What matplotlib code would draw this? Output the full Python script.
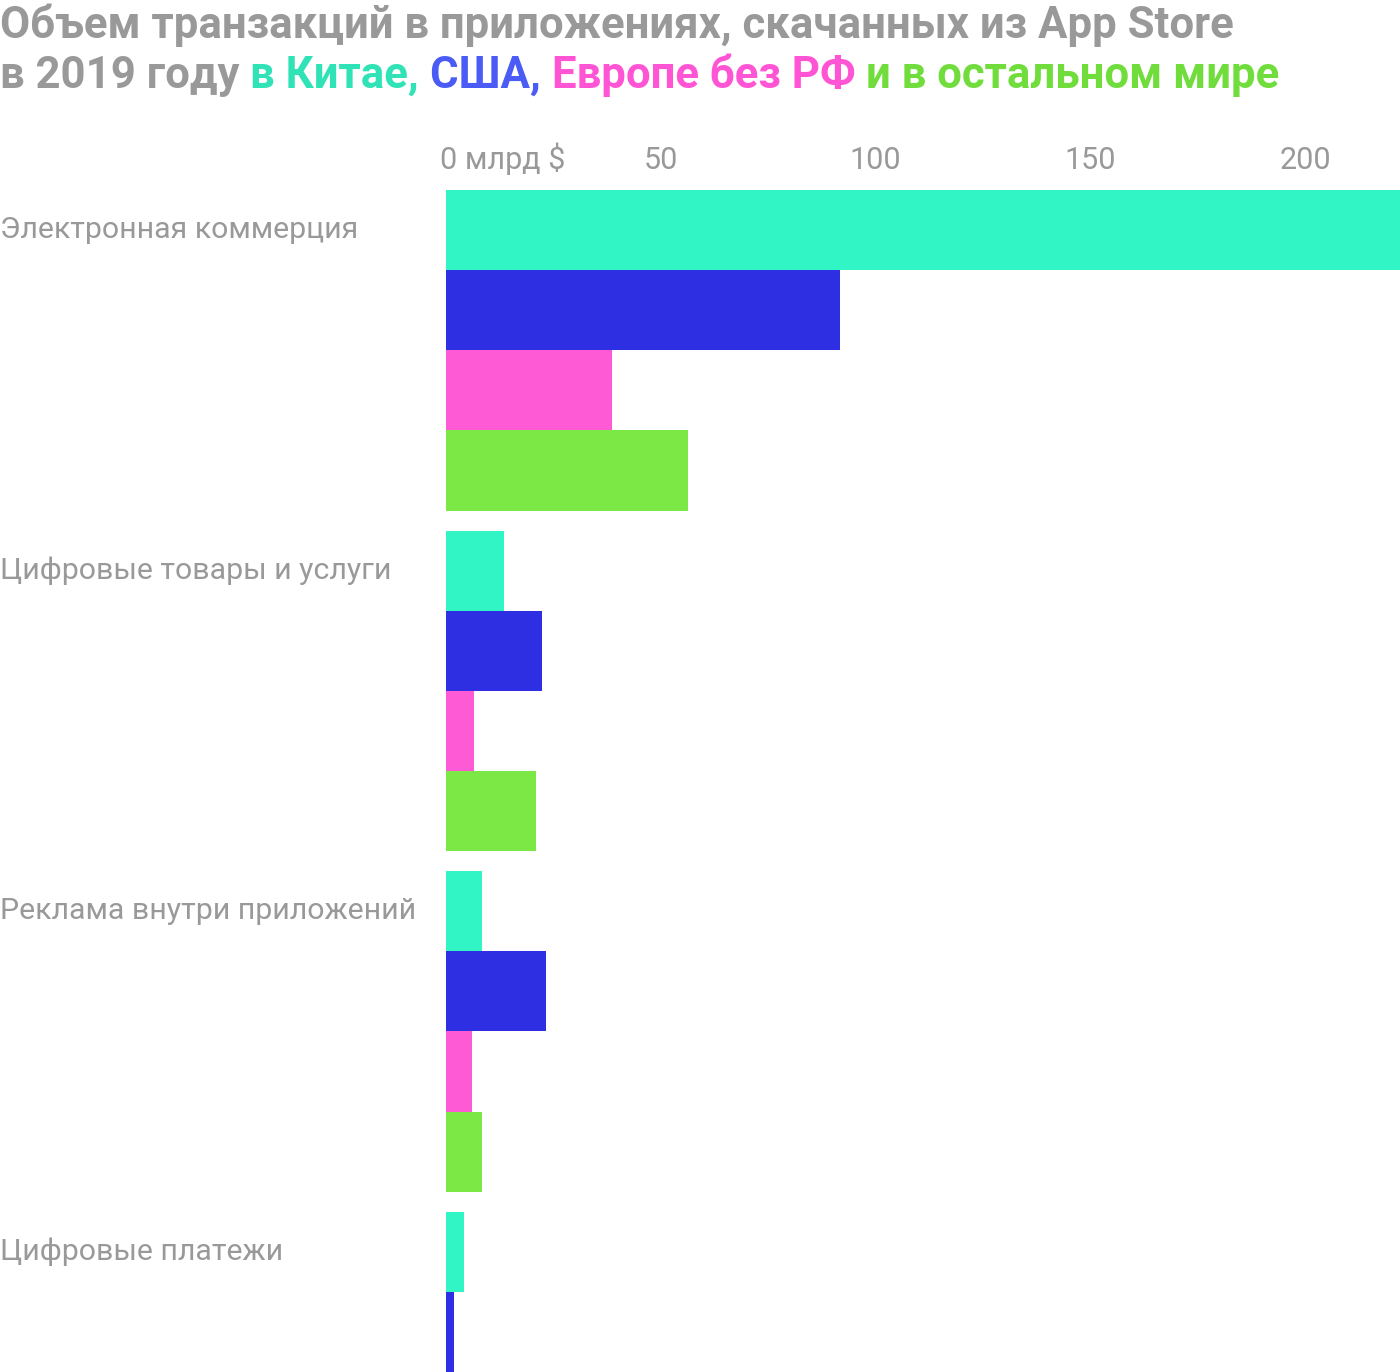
import matplotlib.pyplot as plt
from matplotlib.transforms import blended_transform_factory, ScaledTranslation

# data (billion $)
categories = ['Электронная коммерция', 'Цифровые товары и услуги',
              'Реклама внутри приложений', 'Цифровые платежи']
series = ['Китай', 'США', 'Европа без РФ', 'Остальной мир']
china = [230, 13.5, 8.4, 4.2]
usa = [91.7, 22.3, 23.3, 1.9]
europe = [38.6, 6.5, 6.0, 1.5]
rest = [56.3, 21.0, 8.4, 2.5]
values = [china, usa, europe, rest]

ticks = [0, 50, 100, 150, 200]
tick_labels = ['0 млрд $', '50', '100', '150', '200']

bar_colors = ['#31f5c4', '#2e2ee3', '#ff5ad6', '#7ce845']
title_colors = ['#2fe3b6', '#4a5cf5', '#ff55d5', '#70dd3d']
gray = '#999999'

plt.rcParams['font.family'] = ['Roboto', 'DejaVu Sans']

W, H = 1400, 1372
fig = plt.figure(figsize=(W / 100, H / 100), dpi=100)
ax = fig.add_axes([446 / W, 0, 1 - 446 / W, (1372 - 190) / H])

h = 80 / 340  # bar height relative to group pitch
for j, vals in enumerate(values):
    ys = [i + j * h for i in range(len(categories))]
    ax.barh(ys, vals, height=h, color=bar_colors[j], linewidth=0)

ax.set_xlim(0, 222)
ax.set_ylim(3 + 1.5 * h, -h / 2)

ax.xaxis.tick_top()
ax.set_xticks(ticks)
ax.set_xticklabels(tick_labels)
ax.tick_params(axis='x', length=0, pad=10.5, labelsize=22, labelcolor=gray)
first = ax.get_xticklabels()[0]
first.set_horizontalalignment('left')
first.set_transform(first.get_transform() + ScaledTranslation(-6 / 100, 0, fig.dpi_scale_trans))
ax.set_yticks([])
for s in ax.spines.values():
    s.set_visible(False)

# category labels at the left edge of the figure
tr = blended_transform_factory(fig.transFigure, ax.transData)
for i, c in enumerate(categories):
    ax.text(0, i, c, transform=tr, ha='left', va='center', fontsize=21.8, color=gray)

# multi-coloured title
lines = [
    [('Объем транзакций в приложениях, скачанных из App Store', gray)],
    [('в 2019 году ', gray), ('в Китае, ', title_colors[0]), ('США, ', title_colors[1]),
     ('Европе без РФ ', title_colors[2]), ('и в остальном мире', title_colors[3])],
]
baselines = [38, 88]
fig.canvas.draw()
for parts, base in zip(lines, baselines):
    x = 0
    for txt, col in parts:
        t = fig.text(x / W, 1 - base / H, txt, color=col, fontsize=31.5,
                     fontweight='bold', ha='left', va='baseline')
        fig.canvas.draw()
        x = t.get_window_extent().x1

fig.savefig('out.png', dpi=100)
